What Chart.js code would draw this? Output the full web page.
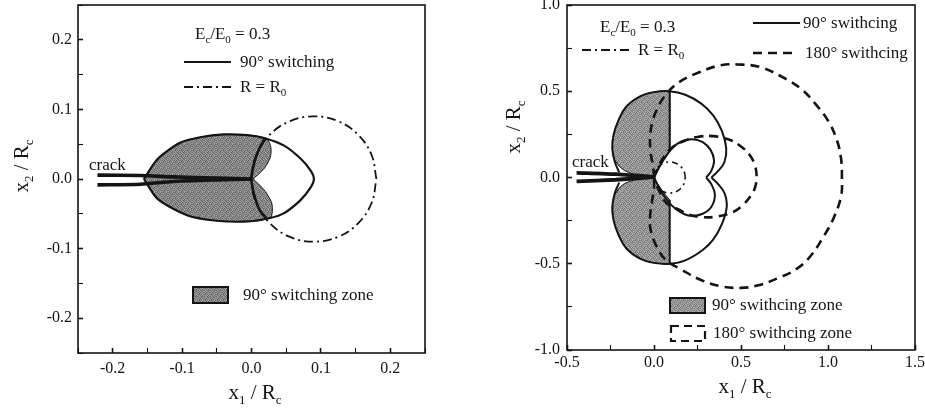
<!DOCTYPE html>
<html>
<head>
<meta charset="utf-8">
<script src="https://cdn.jsdelivr.net/npm/chart.js@4.4.1/dist/chart.umd.min.js"></script>
<style>
html,body{margin:0;padding:0;background:#fff;}
#wrap{position:relative;width:925px;height:411px;overflow:hidden;}
.panel{position:absolute;top:0;height:411px;}
#p1{left:0;width:460px;}
#p2{left:460px;width:465px;}
</style>
</head>
<body>
<div id="wrap">
  <div class="panel" id="p1"><canvas id="left"></canvas></div>
  <div class="panel" id="p2"><canvas id="right"></canvas></div>
</div>
<script>
// ---- tick labels ----
const leftTicks = [-0.2, -0.1, 0.0, 0.1, 0.2];
const leftLabels = ['-0.2', '-0.1', '0.0', '0.1', '0.2'];
const rightXTicks = [-0.5, 0.0, 0.5, 1.0, 1.5];
const rightXLabels = ['-0.5', '0.0', '0.5', '1.0', '1.5'];
const rightYTicks = [-1.0, -0.5, 0.0, 0.5, 1.0];
const rightYLabels = ['-1.0', '-0.5', '0.0', '0.5', '1.0'];

// ---- left panel (x1/Rc, x2/Rc) ----
const leftCrackUpper = [[-0.222,0.0055],[-0.16,0.005],[-0.113,0.003],[-0.05,0.0012],[0.0,0.0]];
const leftCrackLower = [[-0.222,-0.0085],[-0.16,-0.0075],[-0.113,-0.0035],[-0.05,-0.0013],[0.0,0.0]];
const left90Boundary = [[-0.155,0],[-0.135,0.029],[-0.103,0.052],[-0.074,0.06],[-0.04,0.064],[-0.006,0.063],
  [0.018,0.059],[0.047,0.048],[0.071,0.029],[0.086,0.011],[0.09,0],[0.086,-0.011],[0.071,-0.03],[0.047,-0.049],
  [0.027,-0.056],[-0.005,-0.061],[-0.05,-0.06],[-0.093,-0.052],[-0.135,-0.029],[-0.155,0]];
const left90Zone = [[-0.155,0],[-0.135,0.029],[-0.103,0.052],[-0.074,0.06],[-0.04,0.064],[-0.006,0.063],
  [0.022,0.058],[0.028,0.045],[0.027,0.031],[0.019,0.016],[0.008,0.005],[0.003,0],[0.009,-0.006],[0.02,-0.018],
  [0.029,-0.034],[0.03,-0.047],[0.027,-0.056],[-0.005,-0.061],[-0.05,-0.06],[-0.093,-0.052],[-0.135,-0.029],[-0.155,0]];
const leftZoneArc = [[0.02,0.059],[0.012,0.045],[0.006,0.03],[0.002,0.015],[0.0,0],[0.002,-0.015],[0.006,-0.03],[0.012,-0.045],[0.022,-0.057]];
const r0Circle = [[0.18,0],[0.173,0.0345],[0.1536,0.0636],[0.1245,0.0832],[0.09,0.09],[0.0555,0.0832],[0.0264,0.0636],
  [0.0069,0.0345],[0.0,0],[0.0069,-0.0345],[0.0264,-0.0636],[0.0555,-0.0832],[0.09,-0.09],[0.1245,-0.0832],
  [0.1536,-0.0636],[0.173,-0.0345],[0.18,0]];

// ---- right panel ----
const rightCrackUpper = [[-0.445,0.027],[-0.22,0.019],[0.0,0.004]];
const rightCrackLower = [[-0.445,-0.022],[-0.22,-0.013],[0.0,0.002]];
const right90OuterUpper = [[-0.2,0.03],[-0.225,0.09],[-0.24,0.17],[-0.232,0.25],[-0.205,0.33],[-0.16,0.41],[-0.08,0.47],
  [0.0,0.495],[0.09,0.5],[0.18,0.48],[0.27,0.43],[0.34,0.36],[0.39,0.27],[0.415,0.17],[0.405,0.09],[0.37,0.04],[0.33,0.0]];
const right90OuterLower = [[0.33,0.0],[0.37,-0.04],[0.405,-0.09],[0.418,-0.17],[0.39,-0.27],[0.34,-0.36],[0.28,-0.42],
  [0.18,-0.48],[0.09,-0.5],[0.0,-0.495],[-0.08,-0.47],[-0.16,-0.41],[-0.205,-0.33],[-0.232,-0.25],[-0.24,-0.17],[-0.225,-0.09],[-0.2,-0.03]];
const right90DividerUpper = [[0.09,0.5],[0.09,0.15]];
const right90DividerLower = [[0.09,-0.13],[0.09,-0.5]];
const right90InnerUpper = [[0.0,0.0],[0.03,0.06],[0.07,0.125],[0.11,0.175],[0.16,0.21],[0.22,0.222],[0.28,0.205],
  [0.325,0.16],[0.345,0.1],[0.33,0.04],[0.3,0.0]];
const right90InnerLower = [[0.3,0.0],[0.33,-0.04],[0.35,-0.1],[0.33,-0.17],[0.28,-0.21],[0.21,-0.222],[0.15,-0.2],
  [0.1,-0.16],[0.06,-0.11],[0.03,-0.06],[0.0,0.0]];
const right90ZoneUpper = [[0.0,0.004],[-0.1,0.012],[-0.17,0.04],[-0.2,0.065],[-0.225,0.1],[-0.238,0.14],[-0.24,0.17],
  [-0.236,0.21],[-0.232,0.25],[-0.22,0.29],[-0.205,0.33],[-0.185,0.37],[-0.16,0.41],[-0.12,0.445],[-0.08,0.47],
  [-0.04,0.486],[0.0,0.495],[0.05,0.5],[0.09,0.5],[0.09,0.15],[0.05,0.095],[0.02,0.04],[0.0,0.004]];
const right90ZoneLower = [[0.0,0.002],[-0.1,-0.008],[-0.17,-0.035],[-0.2,-0.06],[-0.225,-0.1],[-0.238,-0.14],[-0.24,-0.17],
  [-0.236,-0.21],[-0.232,-0.25],[-0.22,-0.29],[-0.205,-0.33],[-0.185,-0.37],[-0.16,-0.41],[-0.12,-0.445],[-0.08,-0.47],
  [-0.04,-0.486],[0.0,-0.495],[0.05,-0.5],[0.09,-0.5],[0.09,-0.13],[0.05,-0.08],[0.02,-0.035],[0.0,0.002]];
const right180Outer = [[0.0,0.0],[-0.005,0.06],[-0.02,0.15],[-0.022,0.24],[-0.01,0.32],[0.015,0.39],[0.06,0.47],[0.14,0.55],
  [0.26,0.61],[0.38,0.65],[0.48,0.655],[0.61,0.64],[0.76,0.57],[0.85,0.51],[0.925,0.43],[1.0,0.33],[1.05,0.22],[1.075,0.11],
  [1.08,0.0],[1.075,-0.11],[1.03,-0.24],[0.97,-0.35],[0.9,-0.455],[0.82,-0.53],[0.72,-0.58],[0.6,-0.625],[0.5,-0.64],
  [0.38,-0.63],[0.26,-0.59],[0.16,-0.535],[0.07,-0.48],[0.015,-0.4],[-0.02,-0.3],[-0.022,-0.22],[-0.01,-0.13],[0.0,-0.06],[0.0,0.0]];
const right180Inner = [[0.0,0.0],[0.02,0.05],[0.05,0.11],[0.1,0.17],[0.17,0.21],[0.25,0.235],[0.34,0.24],[0.43,0.22],
  [0.5,0.18],[0.55,0.13],[0.58,0.07],[0.59,0.0],[0.58,-0.06],[0.56,-0.1],[0.51,-0.16],[0.455,-0.2],[0.37,-0.225],
  [0.28,-0.23],[0.2,-0.215],[0.15,-0.19],[0.07,-0.146],[0.035,-0.088],[0.01,-0.03],[0.0,0.0]];

const FONT = "'Liberation Serif', 'Times New Roman', serif";
const INK = '#141414';
const DASH180 = [9, 6];
const DASHDOT = [9, 4, 2, 4];

// stipple used for the switching zones (fixed irregular grain)
const grain = [
  [128,96,150,118,166,104],
  [158,136,110,172,92,146],
  [100,170,132,98,140,124],
  [148,114,162,126,108,168],
  [120,152,94,156,134,112],
  [164,102,140,116,170,130]];
function stipple(lift){
  const c = document.createElement('canvas');
  c.width = c.height = 6;
  const g = c.getContext('2d');
  grain.forEach((row, j) => row.forEach((v, i) => {
    const k = Math.min(255, v + lift);
    g.fillStyle = `rgb(${k},${k},${k})`;
    g.fillRect(i, j, 1, 1);
  }));
  return g.createPattern(c, 'repeat');
}

const pts = a => a.map(([x, y]) => ({x, y}));
function curve(data, o){
  return Object.assign({data: pts(data), showLine: true, pointRadius: 0, borderColor: INK,
    borderWidth: 2, tension: 0.4, fill: false}, o);
}
function isMajor(v, list){ return list.findIndex(m => Math.abs(m - v) < 1e-6); }

function axis(min, max, step, ticks, labels, pad, fitFn){
  return {
    type: 'linear', min, max,
    ticks: {
      stepSize: step, autoSkip: false, maxRotation: 0, padding: pad, color: INK,
      font: {family: FONT, size: 16},
      callback: v => { const i = isMajor(v, ticks); return i >= 0 ? labels[i] : ''; }
    },
    grid: {drawOnChartArea: false, drawTicks: true, tickLength: -5, tickColor: INK,
      tickWidth: c => isMajor(c.tick.value, ticks) >= 0 ? 1.6 : 1.1},
    border: {display: false},
    afterFit: fitFn
  };
}

// rich text: parts = [[text, sub?], ...]
function rich(ctx, parts, x, y, size, align){
  const f = s => (s ? Math.round(size * 0.62) : size) + 'px ' + FONT;
  let w = 0;
  parts.forEach(([t, s]) => { ctx.font = f(s); w += ctx.measureText(t).width; });
  let cx = align === 'center' ? x - w / 2 : x;
  ctx.textBaseline = 'alphabetic';
  ctx.textAlign = 'left';
  parts.forEach(([t, s]) => {
    ctx.font = f(s);
    ctx.fillText(t, cx, s ? y + size * 0.25 : y);
    cx += ctx.measureText(t).width;
  });
}
function sample(ctx, x1, x2, y, dash, w){
  ctx.save(); ctx.setLineDash(dash); ctx.lineWidth = w; ctx.strokeStyle = INK;
  ctx.beginPath(); ctx.moveTo(x1, y); ctx.lineTo(x2, y); ctx.stroke(); ctx.restore();
}
function frame(chart){
  const {ctx, chartArea: a} = chart;
  ctx.save(); ctx.strokeStyle = INK; ctx.lineWidth = 1.6;
  ctx.strokeRect(a.left, a.top, a.right - a.left, a.bottom - a.top); ctx.restore();
}
function yTitle(ctx, x, y){
  ctx.save(); ctx.translate(x, y); ctx.rotate(-Math.PI / 2);
  rich(ctx, [['x', 0], ['2', 1], [' / R', 0], ['c', 1]], 0, 0, 21, 'center');
  ctx.restore();
}
const ratio = [['E', 0], ['c', 1], ['/E', 0], ['0', 1], [' = 0.3', 0]];

const leftNotes = {
  id: 'leftNotes',
  afterDraw(chart){
    const ctx = chart.ctx;
    frame(chart);
    ctx.save(); ctx.fillStyle = INK;
    rich(ctx, ratio, 195, 39, 17);
    sample(ctx, 184, 231, 62, [], 2);
    rich(ctx, [['90° switching', 0]], 240, 67, 17);
    sample(ctx, 184, 231, 87, DASHDOT, 1.8);
    rich(ctx, [['R = R', 0], ['0', 1]], 240, 92, 17);
    ctx.fillStyle = stipple(0); ctx.fillRect(193, 287, 35, 16);
    ctx.lineWidth = 2; ctx.strokeStyle = INK; ctx.strokeRect(193, 287, 35, 16);
    ctx.fillStyle = INK;
    rich(ctx, [['90° switching zone', 0]], 243, 300, 17);
    rich(ctx, [['crack', 0]], 89, 170, 17);
    rich(ctx, [['x', 0], ['1', 1], [' / R', 0], ['c', 1]], 255, 399, 21, 'center');
    yTitle(ctx, 28, 166);
    ctx.restore();
  }
};

const rightNotes = {
  id: 'rightNotes',
  afterDraw(chart){
    const ctx = chart.ctx;
    frame(chart);
    ctx.save(); ctx.fillStyle = INK;
    rich(ctx, ratio, 140, 32, 17);
    sample(ctx, 122, 173, 50, DASHDOT, 1.8);
    rich(ctx, [['R = R', 0], ['0', 1]], 178, 55, 17);
    sample(ctx, 293, 340, 23, [], 2);
    rich(ctx, [['90° swithcing', 0]], 343, 28, 17);
    sample(ctx, 293, 338, 53, DASH180, 2.6);
    rich(ctx, [['180° swithcing', 0]], 345, 58, 17);
    ctx.fillStyle = stipple(16); ctx.fillRect(210, 298, 35, 15);
    ctx.lineWidth = 2; ctx.strokeStyle = INK; ctx.strokeRect(210, 298, 35, 15);
    ctx.save(); ctx.setLineDash([8, 5]); ctx.lineWidth = 2.2; ctx.strokeRect(211, 326, 34, 15); ctx.restore();
    ctx.fillStyle = INK;
    rich(ctx, [['90° swithcing zone', 0]], 252, 310, 17);
    rich(ctx, [['180° swithcing zone', 0]], 253, 338, 17);
    rich(ctx, [['crack', 0]], 112, 167, 17);
    rich(ctx, [['x', 0], ['1', 1], [' / R', 0], ['c', 1]], 285, 393, 21, 'center');
    yTitle(ctx, 60, 127);
    ctx.restore();
  }
};

function baseOptions(padRight, xAxis, yAxis){
  return {
    responsive: true, maintainAspectRatio: false, animation: false, events: [],
    layout: {padding: {top: 5, right: padRight, left: 0, bottom: 0}},
    plugins: {legend: {display: false}, tooltip: {enabled: false}},
    scales: {x: xAxis, y: yAxis}
  };
}

new Chart(document.getElementById('left'), {
  type: 'scatter',
  data: {datasets: [
    curve(leftCrackUpper, {borderWidth: 3.6, tension: 0.2, order: 0}),
    curve(leftCrackLower, {borderWidth: 3.6, tension: 0.2, order: 0}),
    curve(leftZoneArc, {borderWidth: 2.6, order: 1}),
    curve(left90Boundary, {borderWidth: 2.2, tension: 0.25, order: 2}),
    curve(r0Circle, {borderWidth: 1.8, borderDash: DASHDOT, order: 3}),
    curve(left90Zone, {borderWidth: 1, tension: 0.25, fill: 'shape', backgroundColor: stipple(0), order: 4})
  ]},
  options: baseOptions(35,
    axis(-0.25, 0.25, 0.05, leftTicks, leftLabels, 11, s => { s.height = 58; s.paddingLeft = 0; s.paddingRight = 0; }),
    axis(-0.25, 0.25, 0.05, leftTicks, leftLabels, 11, s => { s.width = 78; s.paddingTop = 0; s.paddingBottom = 0; })),
  plugins: [leftNotes]
});

new Chart(document.getElementById('right'), {
  type: 'scatter',
  data: {datasets: [
    curve(rightCrackUpper, {borderWidth: 3.8, tension: 0.2, order: 0}),
    curve(rightCrackLower, {borderWidth: 3.8, tension: 0.2, order: 0}),
    curve(r0Circle, {borderWidth: 1.6, borderDash: [6, 4, 2, 4], order: 1}),
    curve(right90InnerUpper, {order: 2}),
    curve(right90InnerLower, {order: 2}),
    curve(right90DividerUpper, {tension: 0, order: 2}),
    curve(right90DividerLower, {tension: 0, order: 2}),
    curve(right90OuterUpper, {order: 2}),
    curve(right90OuterLower, {order: 2}),
    curve(right180Outer, {borderWidth: 2.6, borderDash: DASH180, order: 3}),
    curve(right180Inner, {borderWidth: 2.6, borderDash: DASH180, order: 3}),
    curve(right90ZoneUpper, {borderWidth: 1, tension: 0, fill: 'shape', backgroundColor: stipple(16), order: 5}),
    curve(right90ZoneLower, {borderWidth: 1, tension: 0, fill: 'shape', backgroundColor: stipple(16), order: 5})
  ]},
  options: baseOptions(10,
    axis(-0.5, 1.5, 0.25, rightXTicks, rightXLabels, 8, s => { s.height = 61; s.paddingLeft = 0; s.paddingRight = 0; }),
    axis(-1.0, 1.0, 0.25, rightYTicks, rightYLabels, 12, s => { s.width = 107; s.paddingTop = 0; s.paddingBottom = 0; })),
  plugins: [rightNotes]
});
</script>
</body>
</html>
